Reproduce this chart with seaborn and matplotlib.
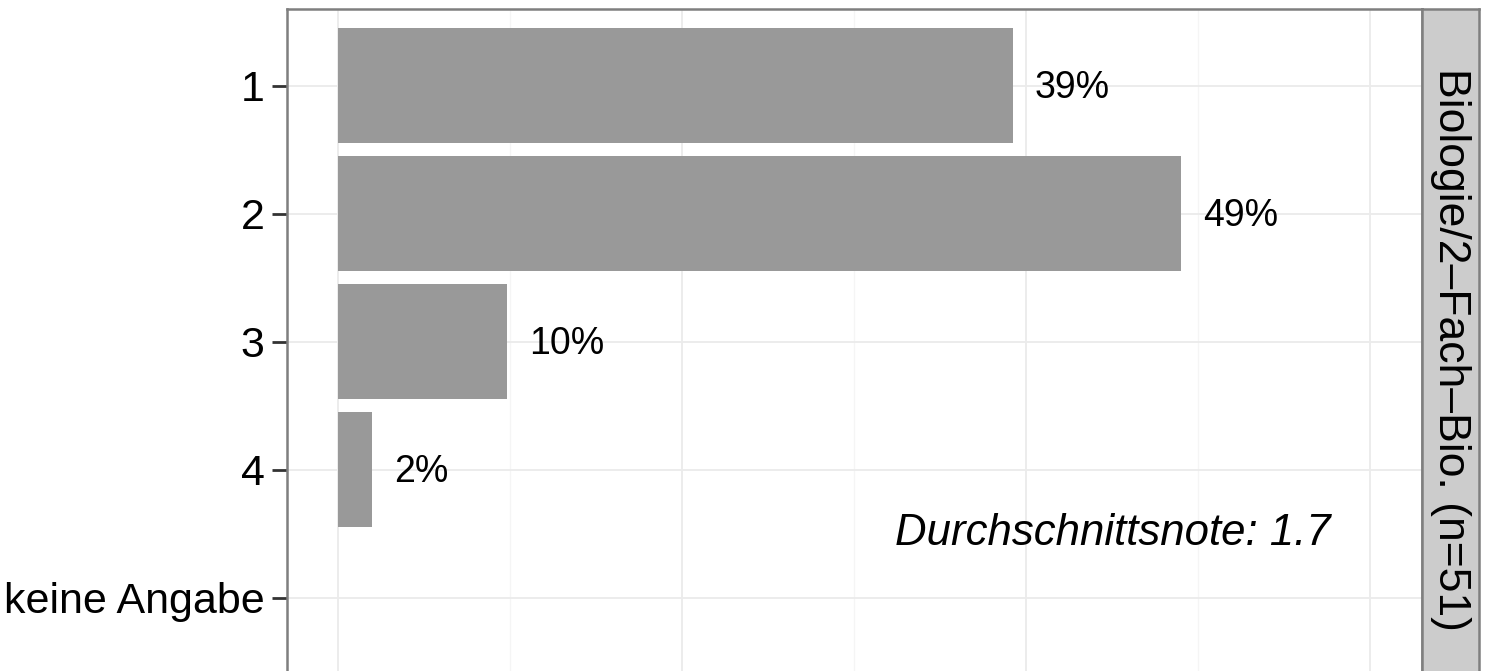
import numpy as np
import pandas as pd
import matplotlib
matplotlib.use("Agg")
import matplotlib.pyplot as plt
import seaborn as sns

categories = ["1", "2", "3", "4", "keine Angabe"]
counts = [20, 25, 5, 1, 0]
n_total = 51
pct_labels = ["39%", "49%", "10%", "2%", ""]
strip_label = "Biologie/2\u2013Fach\u2013Bio. (n=51)"
mean_label = "Durchschnittsnote: 1.7"

df = pd.DataFrame({"note": categories, "anteil": np.array(counts) / n_total, "label": pct_labels})

sns.set_theme(style="white")
plt.rcParams["font.family"] = ["Liberation Sans", "DejaVu Sans"]

W, H = 1487, 671
fig = plt.figure(figsize=(W / 100, H / 100), dpi=100)
left, right, top = 287, 1422, 9
bottom = top + 5.2 * 128
ax = fig.add_axes([left / W, 1 - bottom / H, (right - left) / W, (bottom - top) / H])

sns.barplot(data=df, x="anteil", y="note", order=categories, color="#999999",
            width=0.9, saturation=1, ax=ax, zorder=3, edgecolor="none", linewidth=0)

ax.set_xlim(-0.0297, 0.6302)
ax.set_ylim(4.6, -0.6)
ax.set_xticks([0, 0.2, 0.4, 0.6])
ax.set_xticks([0.1, 0.3, 0.5], minor=True)
ax.grid(True, which="major", color="#ebebeb", linewidth=1.3, zorder=0)
ax.grid(True, which="minor", axis="x", color="#f5f5f5", linewidth=1.0, zorder=0)
ax.set_axisbelow(True)
ax.set_xlabel("")
ax.set_ylabel("")
ax.tick_params(axis="y", left=True, labelsize=31, length=11, width=2.0, color="#333333",
               pad=5, labelcolor="black")
ax.tick_params(axis="x", which="both", bottom=False, labelbottom=False)
for s in ax.spines.values():
    s.set_color("#7f7f7f")
    s.set_linewidth(1.8)

for i, (v, lab) in enumerate(zip(df["anteil"], df["label"])):
    if lab:
        ax.text(v + 0.013, i + 0.02, lab, ha="left", va="center", fontsize=27, color="black")

ax.text(0.577, 3.59, mean_label, ha="right", va="baseline", fontsize=31.5,
        style="italic", color="black")

# facet strip
sx0, sx1 = 1422, 1479
strip = fig.add_axes([sx0 / W, 1 - bottom / H, (sx1 - sx0) / W, (bottom - top) / H])
strip.set_facecolor("#cccccc")
strip.set_xticks([])
strip.set_yticks([])
for s in strip.spines.values():
    s.set_color("#7f7f7f")
    s.set_linewidth(1.8)
strip.text(0.5, 0.488, strip_label, rotation=270, ha="center", va="center",
           fontsize=32, transform=strip.transAxes, color="black")

fig.savefig("out.png", dpi=100)
